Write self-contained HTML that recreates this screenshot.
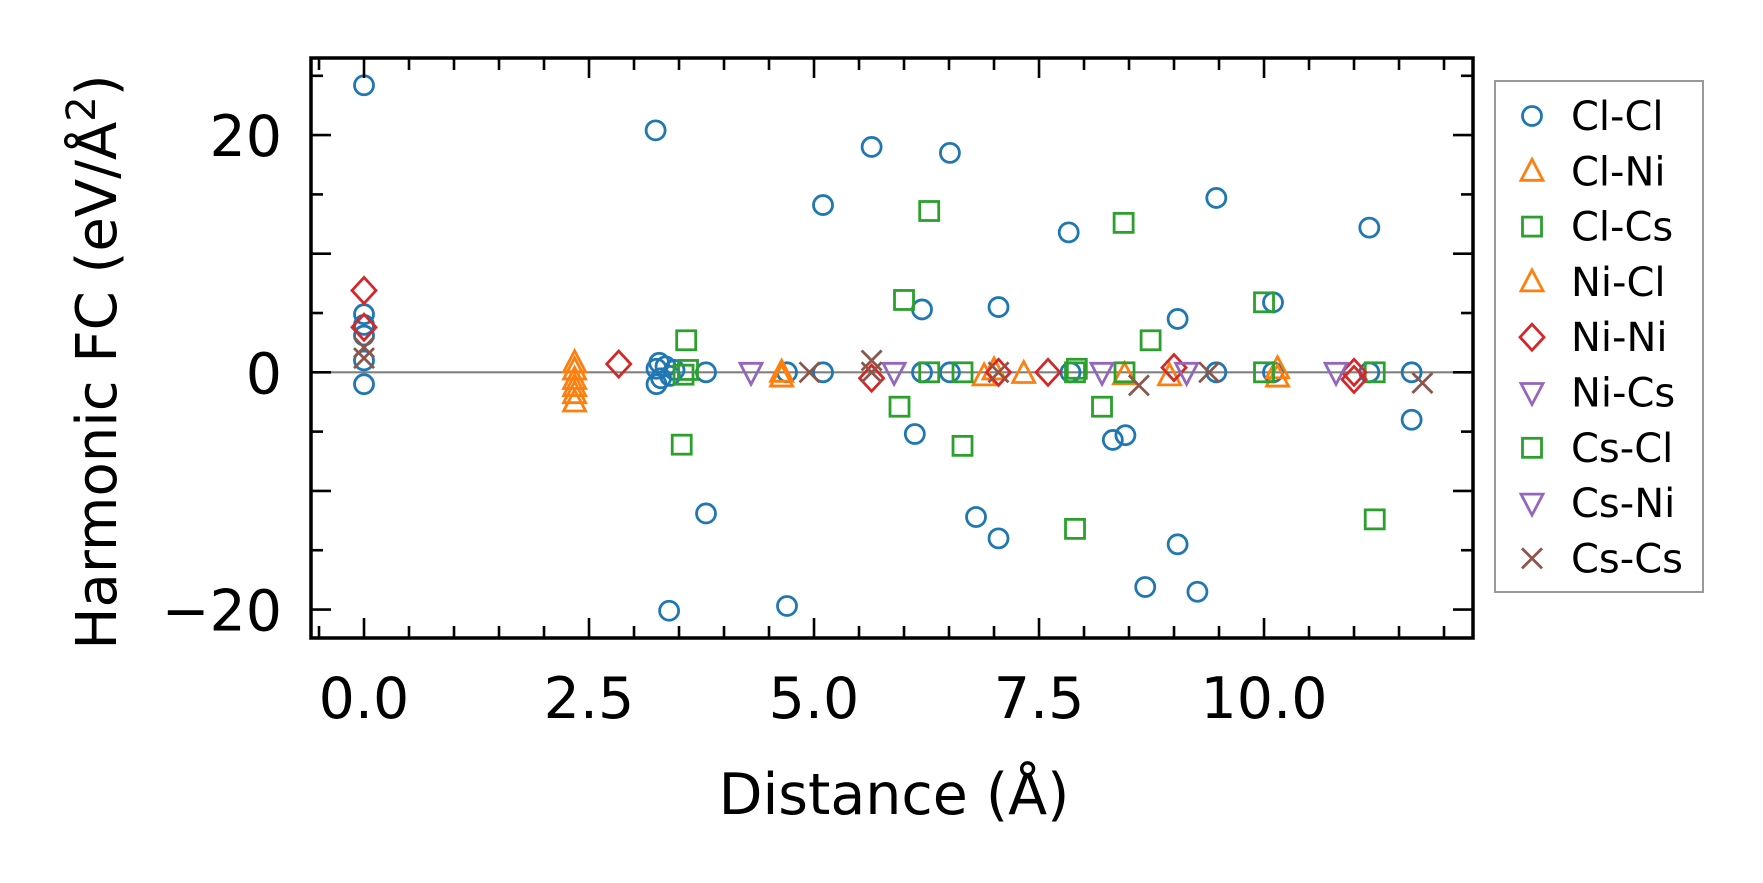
<!DOCTYPE html>
<html><head><meta charset="utf-8"><style>
body{margin:0;background:#fff}
svg{display:block;font-family:"DejaVu Sans","Liberation Sans",sans-serif}
</style></head><body>
<svg id="chart" width="1763" height="883" viewBox="0 0 1763 883" xmlns="http://www.w3.org/2000/svg">
<rect width="1763" height="883" fill="#fff"/>
<g id="marks"></g>
<g id="axes"></g>
<g id="legend"></g>
</svg>
<script>
const seriesNames = ["Cl-Cl","Cl-Ni","Cl-Cs","Ni-Cl","Ni-Ni","Ni-Cs","Cs-Cl","Cs-Ni","Cs-Cs"];
const clclX = [0,0,0,0,0,0,3.24,3.39,3.8,3.8,3.25,3.28,3.3,3.35,3.4,3.45,3.25,4.7,4.7,5.1,5.1,5.64,6.12,6.2,6.2,6.51,6.51,6.8,7.05,7.05,7.83,7.85,8.32,8.46,8.68,9.04,9.04,9.26,9.47,9.47,10.1,10.1,11.17,11.17,11.64,11.64];
const clclY = [24.2,4.9,4,3.1,1,-1,20.4,-20.1,-11.9,0,-1,0.8,-0.5,0.5,-0.3,0.2,0.3,-19.7,0,14.1,0,19,-5.2,5.3,0,18.5,0,-12.2,-14,5.5,11.8,0,-5.7,-5.3,-18.1,4.5,-14.5,-18.5,14.7,0,5.9,0,12.2,0,-4,0];
const clniX = [2.34,2.34,2.34,2.34,2.34,2.34,4.64,4.64,6.89,7.0,7.33,8.45,8.95,10.15,10.15];
const clniY = [0.8,0.2,-0.6,-1.2,-1.8,-2.5,0,-0.4,-0.3,0.2,-0.1,-0.2,-0.3,-0.4,0.3];
const clcsX = [3.58,3.53,3.55,3.6,6.0,5.95,6.28,6.28,6.65,6.65,7.9,7.9,7.92,8.2,8.44,8.45,8.74,10.0,10.0,11.23,11.23];
const clcsY = [2.7,-6.1,-0.2,0.2,6.1,-2.9,13.6,0,-6.2,0,-13.2,0,0.3,-2.9,12.6,0,2.7,5.9,0,-12.4,0];
const niniX = [0,0,2.83,5.64,7.05,7.6,9.0,11.0,11.0];
const niniY = [6.9,3.8,0.7,-0.5,0,0,0.4,0,-0.6];
const nicsX = [4.3,5.89,8.2,9.14,10.8];
const nicsY = [0,0,0,0,0];
const cscsX = [0,0,4.95,5.64,5.64,7.05,8.61,9.39,11.76];
const cscsY = [2.1,1.2,0,1,0,0,-1.1,0,-0.9];
const xTicks = [0,2.5,5,7.5,10];
const xTickLabels = ["0.0","2.5","5.0","7.5","10.0"];
const yTicks = [-20,0,20];
const yTickLabels = ["\u221220","0","20"];

const L=311,R=1473,T=58,B=638;
const X0=-0.589,X1=12.322,Y0=-22.4,Y1=26.5;
const sx=v=>L+(v-X0)/(X1-X0)*(R-L);
const sy=v=>B-(v-Y0)/(Y1-Y0)*(B-T);
const NS="http://www.w3.org/2000/svg";
function mk(tag,attrs,parent){const e=document.createElementNS(NS,tag);for(const k in attrs)e.setAttribute(k,attrs[k]);parent.appendChild(e);return e;}
const marks=document.getElementById('marks'),axes=document.getElementById('axes'),legend=document.getElementById('legend');

const zl=mk('line',{x1:L,x2:R,y1:sy(0),y2:sy(0),stroke:'#808080','stroke-width':2.2},marks);



function marker(kind,cx,cy,color,parent){
  const sw=2.8;let e;
  if(kind==='o')e=mk('circle',{cx:cx,cy:cy,r:9.5,fill:'none',stroke:color,'stroke-width':sw},parent);
  else if(kind==='^')e=mk('polygon',{points:`${cx},${cy-12} ${cx+11},${cy+9} ${cx-11},${cy+9}`,fill:'none',stroke:color,'stroke-width':sw},parent);
  else if(kind==='v')e=mk('polygon',{points:`${cx},${cy+12} ${cx+11},${cy-9} ${cx-11},${cy-9}`,fill:'none',stroke:color,'stroke-width':sw},parent);
  else if(kind==='s')e=mk('rect',{x:cx-9.5,y:cy-9.5,width:19,height:19,fill:'none',stroke:color,'stroke-width':sw},parent);
  else if(kind==='D')e=mk('polygon',{points:`${cx},${cy-13} ${cx+12},${cy} ${cx},${cy+13} ${cx-12},${cy}`,fill:'none',stroke:color,'stroke-width':sw},parent);
  else {e=mk('path',{d:`M${cx-10},${cy-10}L${cx+10},${cy+10}M${cx-10},${cy+10}L${cx+10},${cy-10}`,fill:'none',stroke:color,'stroke-width':sw},parent);}
  return e;
}
function drawSeries(xs,ys,kind,color,name){
  for(let i=0;i<xs.length;i++){
    const e=marker(kind,sx(xs[i]),sy(ys[i]),color,marks);
    
    
  }
}
drawSeries(clclX,clclY,'o','#1f77b4','cl-cl');
drawSeries(clniX,clniY,'^','#ff7f0e','cl-ni');
drawSeries(clcsX,clcsY,'s','#2ca02c','cl-cs');
drawSeries(niniX,niniY,'D','#d62728','ni-ni');
drawSeries(nicsX,nicsY,'v','#9467bd','ni-cs');
drawSeries(cscsX,cscsY,'x','#8c564b','cs-cs');

const fr=mk('rect',{x:L,y:T,width:R-L,height:B-T,fill:'none',stroke:'#000','stroke-width':3.5},axes);


for(let v=-0.5;v<=12.3;v+=0.5){
  const major=xTicks.includes(v);const len=major?20:12;const x=sx(v);
  mk('line',{x1:x,x2:x,y1:B,y2:B-len,stroke:'#000','stroke-width':2.6},axes);
  mk('line',{x1:x,x2:x,y1:T,y2:T+len,stroke:'#000','stroke-width':2.6},axes);
}
for(let v=-20;v<=25;v+=5){
  const major=(v%10===0);const len=major?20:12;const y=sy(v);
  mk('line',{x1:L,x2:L+len,y1:y,y2:y,stroke:'#000','stroke-width':2.6},axes);
  mk('line',{x1:R,x2:R-len,y1:y,y2:y,stroke:'#000','stroke-width':2.6},axes);
}
xTicks.forEach((v,i)=>{
  const t=mk('text',{x:sx(v),y:718,'font-size':57,'text-anchor':'middle'},axes);
  t.textContent=xTickLabels[i];
  
  
});
yTicks.forEach((v,i)=>{
  const t=mk('text',{x:282,y:sy(v)+21,'font-size':57,'text-anchor':'end'},axes);
  t.textContent=yTickLabels[i];
  
  
});
const xl=mk('text',{x:894,y:814,'font-size':57,'text-anchor':'middle'},axes);
xl.textContent='Distance (Å)';


const yl=mk('text',{transform:'translate(116,362) rotate(-90)','font-size':56,'text-anchor':'middle'},axes);
yl.innerHTML='Harmonic FC (eV/Å<tspan dy="-21" font-size="40">2</tspan><tspan dy="21">)</tspan>';



const lb=mk('rect',{x:1495,y:81,width:208,height:511,fill:'#fff',stroke:'#999','stroke-width':2},legend);


const legKinds=['o','^','s','^','D','v','s','v','x'];
const legColors=['#1f77b4','#ff7f0e','#2ca02c','#ff7f0e','#d62728','#9467bd','#2ca02c','#9467bd','#8c564b'];
seriesNames.forEach((n,i)=>{
  const y=116+i*55.3;
  const g=mk('g',{},legend);
  
  
  marker(legKinds[i],1532,y,legColors[i],g);
  const t=mk('text',{x:1571,y:y+14,'font-size':40},g);
  t.textContent=n;
});
</script>
</body></html>
